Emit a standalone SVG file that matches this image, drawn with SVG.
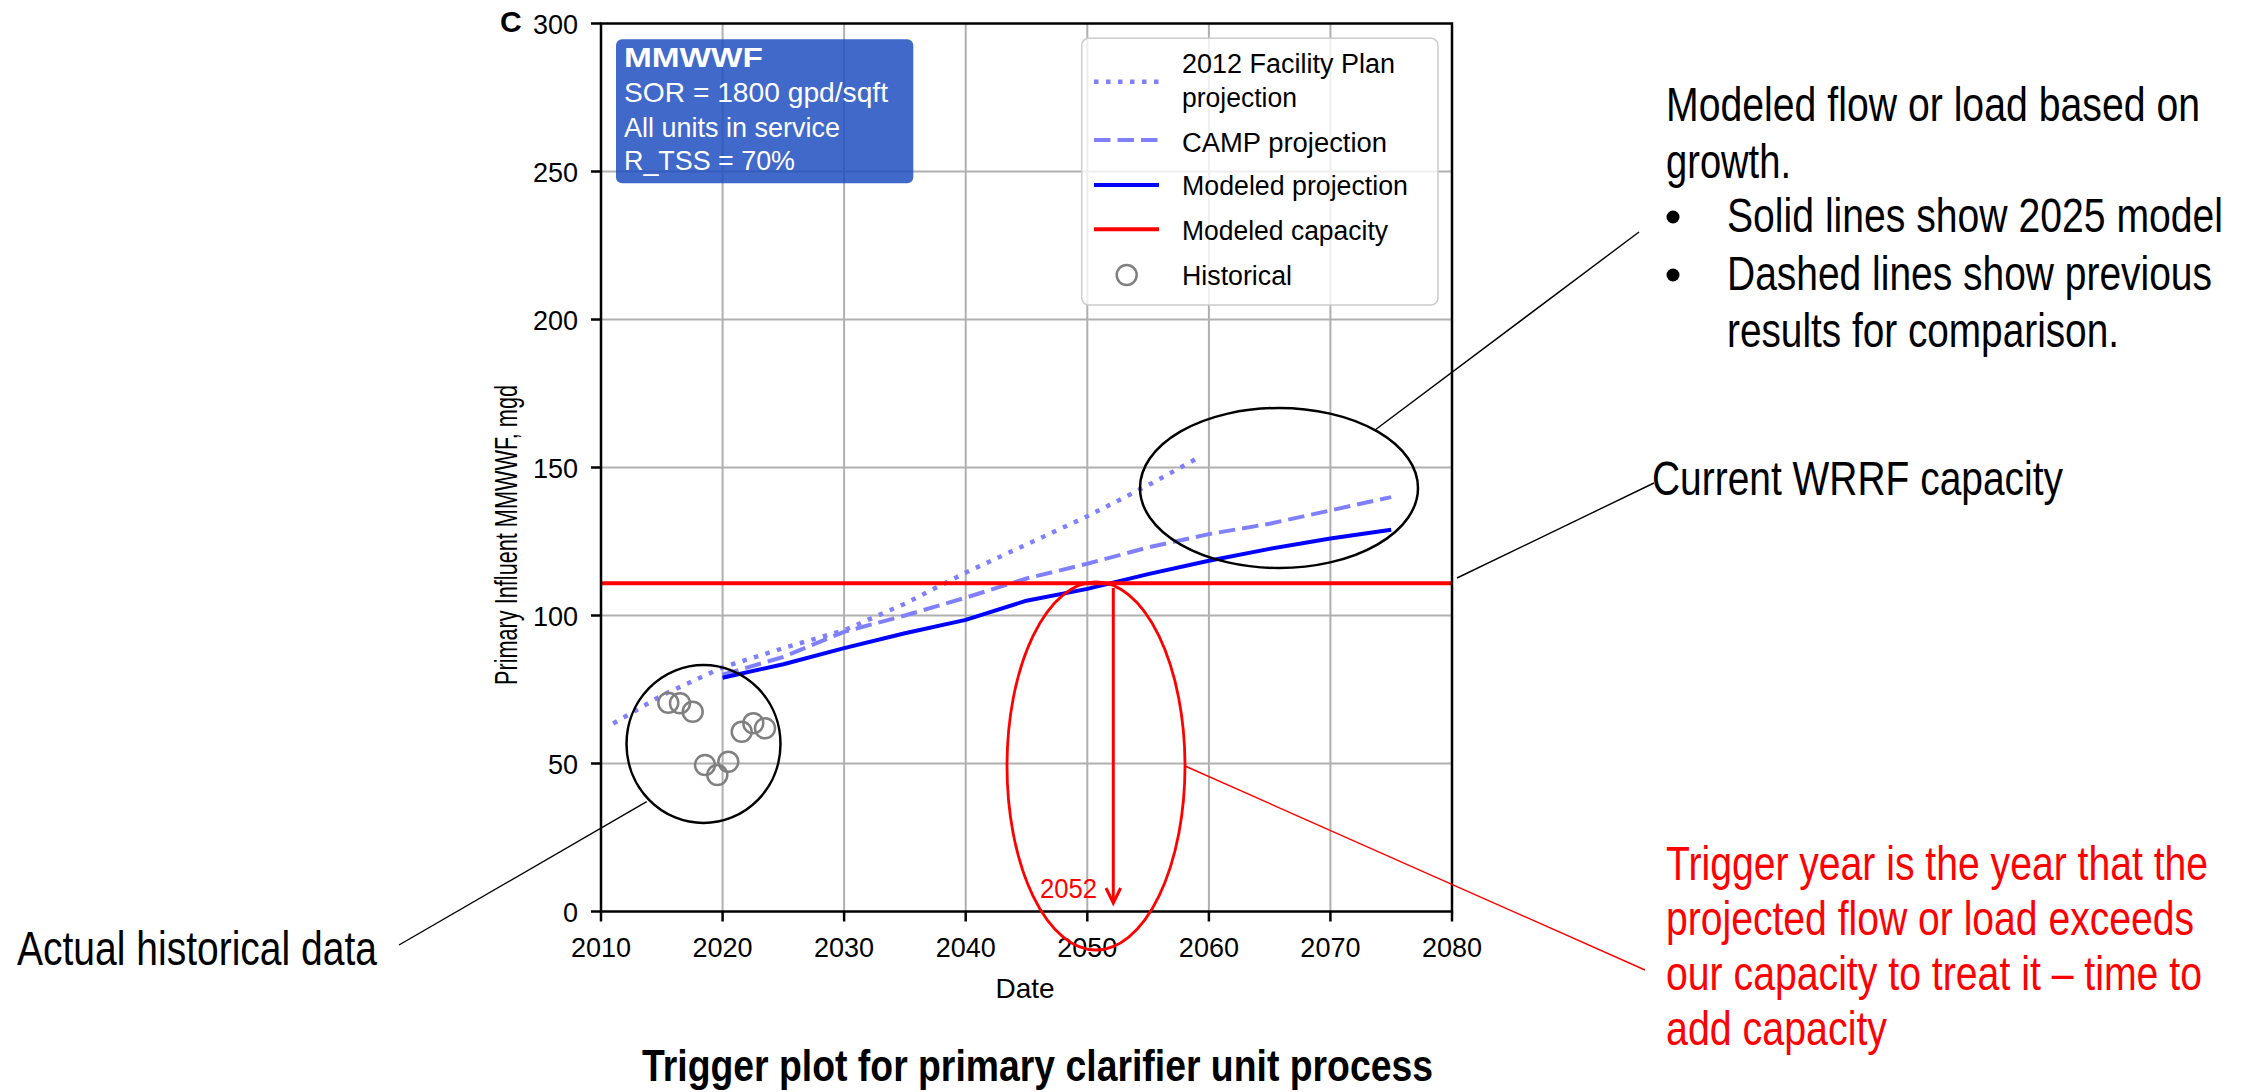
<svg xmlns="http://www.w3.org/2000/svg" width="2251" height="1092" viewBox="0 0 2251 1092">
<style>
.mpl{font-family:"Liberation Sans","DejaVu Sans",sans-serif;fill:#000}
.tick{font-size:27px}
.narrow{font-family:"Liberation Sans Narrow","Liberation Sans",sans-serif;font-size:48px}
.grid{stroke:#b0b0b0;stroke-width:2;fill:none}
.solid{stroke:#0000ff;stroke-width:4;fill:none;stroke-linejoin:round}
.dashed{stroke:#8080ff;stroke-width:4;fill:none;stroke-dasharray:16.5 7}
.dotted{stroke:#8080ff;stroke-width:4.5;fill:none;stroke-dasharray:4.5 7.5}
.cap{stroke:#ff0000;stroke-width:4;fill:none}
.hist{stroke:#808080;stroke-width:2.5;fill:none}
.lead{stroke:#000;stroke-width:1.4;fill:none}
.circ{stroke:#000;stroke-width:2.5;fill:none}
</style>
<rect width="2251" height="1092" fill="#fff"/>

<g id="plot">
  <g id="grid">
    <path class="grid" d="M722.6 23.5V911.5M844.1 23.5V911.5M965.7 23.5V911.5M1087.3 23.5V911.5M1208.9 23.5V911.5M1330.4 23.5V911.5"/>
    <path class="grid" d="M601 763.5H1452M601 615.5H1452M601 467.5H1452M601 319.5H1452M601 171.5H1452"/>
  </g>
  <g id="data">
    <polyline class="dotted" points="613.2,723.5 661.8,695.4 722.6,667.3 783.4,648.1 844.1,630.3 904.9,603.7 965.7,572.6 1026.5,544.5 1087.3,516.3 1148.1,485.3 1196.7,458.6"/>
    <polyline class="dashed" points="722.6,674.7 783.4,656.9 844.1,631.8 904.9,615.5 965.7,597.7 1026.5,578.5 1087.3,563.7 1148.1,547.4 1208.9,534.1 1269.6,523.7 1330.4,510.4 1391.2,497.1"/>
    <polyline class="solid" points="722.6,677.7 783.4,664.3 844.1,648.1 904.9,633.3 965.7,619.9 1026.5,600.7 1087.3,588.9 1148.1,574.1 1208.9,560.7 1269.6,548.9 1330.4,538.5 1391.2,529.7"/>
    <line class="cap" x1="601" y1="583.3" x2="1452" y2="583.3"/>
    <g class="hist">
      <circle cx="668.3" cy="702.7" r="10"/>
      <circle cx="680" cy="703.3" r="10"/>
      <circle cx="692.7" cy="711.7" r="10"/>
      <circle cx="741.7" cy="731.7" r="10"/>
      <circle cx="753.3" cy="723.3" r="10"/>
      <circle cx="765" cy="728.3" r="10"/>
      <circle cx="705" cy="765" r="10"/>
      <circle cx="728.3" cy="761.7" r="10"/>
      <circle cx="717.3" cy="775" r="10"/>
    </g>
  </g>
  <g id="axes">
    <rect x="601" y="23.5" width="851" height="888" fill="none" stroke="#000" stroke-width="2.5"/>
    <path d="M591 911.5H601M591 763.5H601M591 615.5H601M591 467.5H601M591 319.5H601M591 171.5H601M591 23.5H601" stroke="#000" stroke-width="2.5"/>
    <path d="M601 911.5V921.5M722.6 911.5V921.5M844.1 911.5V921.5M965.7 911.5V921.5M1087.3 911.5V921.5M1208.9 911.5V921.5M1330.4 911.5V921.5M1452 911.5V921.5" stroke="#000" stroke-width="2.5"/>
    <g class="mpl tick" text-anchor="end">
      <text x="578" y="921.5">0</text>
      <text x="578" y="773.5">50</text>
      <text x="578" y="625.5">100</text>
      <text x="578" y="477.5">150</text>
      <text x="578" y="329.5">200</text>
      <text x="578" y="181.5">250</text>
      <text x="578" y="33.5">300</text>
    </g>
    <g class="mpl tick" text-anchor="middle">
      <text x="601" y="957">2010</text>
      <text x="722.6" y="957">2020</text>
      <text x="844.1" y="957">2030</text>
      <text x="965.7" y="957">2040</text>
      <text x="1087.3" y="957">2050</text>
      <text x="1208.9" y="957">2060</text>
      <text x="1330.4" y="957">2070</text>
      <text x="1452" y="957">2080</text>
    </g>
    <text class="mpl" x="1025" y="998" font-size="28" text-anchor="middle">Date</text>
    <text class="mpl" transform="translate(516.7 535) rotate(-90)" font-size="31" text-anchor="middle" textLength="300" lengthAdjust="spacingAndGlyphs">Primary Influent MMWWF, mgd</text>
    <text class="mpl" x="500" y="32" font-size="30" font-weight="bold">C</text>
  </g>
</g>

<g id="info-box">
  <rect x="616" y="39.3" width="297.3" height="144" rx="6" fill="#1f4fc0" fill-opacity="0.85"/>
  <g font-family="'Liberation Sans','DejaVu Sans',sans-serif" fill="#fff" font-size="28">
    <text x="624" y="66.7" font-weight="bold" textLength="139" lengthAdjust="spacingAndGlyphs">MMWWF</text>
    <text x="624" y="101.7" textLength="264" lengthAdjust="spacingAndGlyphs">SOR = 1800 gpd/sqft</text>
    <text x="624" y="136.7" textLength="216" lengthAdjust="spacingAndGlyphs">All units in service</text>
    <text x="624" y="170" textLength="171" lengthAdjust="spacingAndGlyphs">R_TSS = 70%</text>
  </g>
</g>

<g id="legend">
  <rect x="1081.7" y="38.3" width="356.3" height="266.7" rx="7" fill="#fff" fill-opacity="0.8" stroke="#cccccc" stroke-width="1.5"/>
  <line class="dotted" x1="1094" y1="81.7" x2="1159" y2="81.7"/>
  <line class="dashed" x1="1094" y1="140" x2="1159" y2="140"/>
  <line class="solid" x1="1094" y1="185" x2="1159" y2="185"/>
  <line class="cap" x1="1094" y1="229.3" x2="1159" y2="229.3"/>
  <circle class="hist" cx="1126.7" cy="275" r="10"/>
  <g class="mpl" font-size="27">
    <text x="1182" y="73.3" textLength="213" lengthAdjust="spacingAndGlyphs">2012 Facility Plan</text>
    <text x="1182" y="106.7" textLength="115" lengthAdjust="spacingAndGlyphs">projection</text>
    <text x="1182" y="151.7" textLength="205" lengthAdjust="spacingAndGlyphs">CAMP projection</text>
    <text x="1182" y="195" textLength="226" lengthAdjust="spacingAndGlyphs">Modeled projection</text>
    <text x="1182" y="240" textLength="206" lengthAdjust="spacingAndGlyphs">Modeled capacity</text>
    <text x="1182" y="285" textLength="110" lengthAdjust="spacingAndGlyphs">Historical</text>
  </g>
</g>

<g id="historical-ellipse">
  <ellipse class="circ" cx="703.5" cy="744" rx="77" ry="79"/>
</g>
<g id="growth-ellipse">
  <ellipse class="circ" cx="1279" cy="488" rx="139" ry="80"/>
</g>
<g id="trigger-marker">
  <ellipse cx="1096" cy="766" rx="89" ry="184" fill="none" stroke="#ff0000" stroke-width="2.8"/>
  <line x1="1113.3" y1="588" x2="1113.3" y2="902" stroke="#ff0000" stroke-width="3"/>
  <path d="M1106 888L1113.3 903L1120.6 888" fill="none" stroke="#ff0000" stroke-width="3"/>
  <text x="1040" y="898" font-family="'Liberation Sans','DejaVu Sans',sans-serif" font-size="27" fill="#ff0000" textLength="57" lengthAdjust="spacingAndGlyphs">2052</text>
</g>

<g id="connectors">
  <line class="lead" x1="646.7" y1="801.7" x2="399" y2="945"/>
  <line class="lead" x1="1375" y1="430" x2="1639" y2="232"/>
  <line class="lead" x1="1457" y1="578" x2="1654" y2="483"/>
  <line x1="1185" y1="766" x2="1645" y2="970" stroke="#ff0000" stroke-width="1.4"/>
</g>

<g id="note-historical">
  <text class="narrow" x="17" y="965" textLength="360" lengthAdjust="spacingAndGlyphs">Actual historical data</text>
</g>
<g id="note-growth" class="narrow">
  <text x="1666" y="121" textLength="534" lengthAdjust="spacingAndGlyphs">Modeled flow or load based on</text>
  <text x="1666" y="178" textLength="125" lengthAdjust="spacingAndGlyphs">growth.</text>
  <circle cx="1673" cy="217" r="6.5" fill="#000"/>
  <text x="1727" y="232" textLength="496" lengthAdjust="spacingAndGlyphs">Solid lines show 2025 model</text>
  <circle cx="1673" cy="275" r="6.5" fill="#000"/>
  <text x="1727" y="289.5" textLength="485" lengthAdjust="spacingAndGlyphs">Dashed lines show previous</text>
  <text x="1727" y="347" textLength="392" lengthAdjust="spacingAndGlyphs">results for comparison.</text>
</g>
<g id="note-capacity">
  <text class="narrow" x="1652" y="495" textLength="411" lengthAdjust="spacingAndGlyphs">Current WRRF capacity</text>
</g>
<g id="note-trigger" class="narrow" fill="#ff0000">
  <text x="1666" y="880" textLength="542" lengthAdjust="spacingAndGlyphs">Trigger year is the year that the</text>
  <text x="1666" y="935" textLength="528" lengthAdjust="spacingAndGlyphs">projected flow or load exceeds</text>
  <text x="1666" y="990" textLength="536" lengthAdjust="spacingAndGlyphs">our capacity to treat it – time to</text>
  <text x="1666" y="1045" textLength="221" lengthAdjust="spacingAndGlyphs">add capacity</text>
</g>
<g id="title">
  <text x="642" y="1081" font-family="'Liberation Sans Narrow','Liberation Sans',sans-serif" font-size="44" font-weight="bold" textLength="791" lengthAdjust="spacingAndGlyphs">Trigger plot for primary clarifier unit process</text>
</g>
</svg>
